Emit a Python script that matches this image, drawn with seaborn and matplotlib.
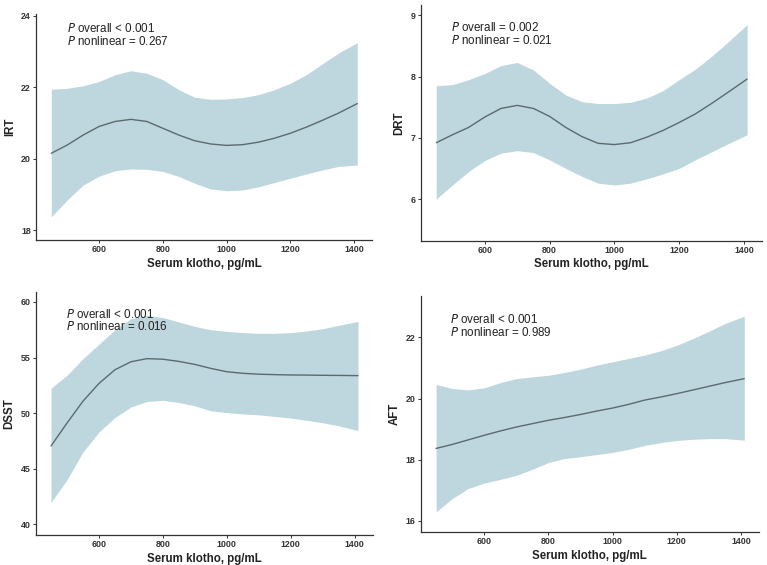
import numpy as np
import pandas as pd
import matplotlib
matplotlib.use("Agg")
import matplotlib.pyplot as plt
import seaborn as sb

# serum klotho values (pg/mL) where curves were read
klotho = [450, 500, 550, 600, 650, 700, 750, 800, 850, 900, 950,
          1000, 1050, 1100, 1150, 1200, 1250, 1300, 1350, 1410]

irt_est = [20.15, 20.38, 20.66, 20.90, 21.04, 21.10, 21.04, 20.85, 20.66, 20.50,
           20.41, 20.37, 20.39, 20.46, 20.57, 20.71, 20.88, 21.07, 21.27, 21.54]
irt_hi = [21.94, 21.97, 22.04, 22.16, 22.35, 22.46, 22.39, 22.21, 21.93, 21.72,
          21.66, 21.67, 21.71, 21.79, 21.93, 22.11, 22.35, 22.65, 22.95, 23.25]
irt_lo = [18.37, 18.84, 19.26, 19.51, 19.66, 19.71, 19.70, 19.64, 19.50, 19.31,
          19.15, 19.10, 19.12, 19.21, 19.33, 19.45, 19.57, 19.68, 19.78, 19.82]

drt_est = [6.92, 7.05, 7.17, 7.34, 7.48, 7.53, 7.48, 7.35, 7.17, 7.02,
           6.91, 6.89, 6.92, 7.01, 7.12, 7.25, 7.39, 7.56, 7.74, 7.96]
drt_hi = [7.85, 7.87, 7.95, 8.05, 8.18, 8.23, 8.11, 7.89, 7.70, 7.59,
          7.56, 7.56, 7.58, 7.65, 7.77, 7.95, 8.12, 8.33, 8.56, 8.85]
drt_lo = [6.00, 6.23, 6.45, 6.63, 6.75, 6.79, 6.76, 6.64, 6.50, 6.37,
          6.26, 6.23, 6.26, 6.33, 6.41, 6.50, 6.64, 6.77, 6.90, 7.05]

dsst_est = [47.04, 49.10, 51.07, 52.67, 53.90, 54.62, 54.90, 54.85, 54.65, 54.38,
            54.02, 53.72, 53.58, 53.50, 53.46, 53.43, 53.42, 53.40, 53.39, 53.37]
dsst_hi = [52.23, 53.40, 54.90, 56.20, 57.50, 58.50, 58.80, 58.60, 58.20, 57.80,
           57.50, 57.35, 57.25, 57.18, 57.18, 57.24, 57.39, 57.60, 57.90, 58.26]
dsst_lo = [41.95, 44.00, 46.50, 48.30, 49.60, 50.55, 51.05, 51.15, 50.95, 50.65,
           50.20, 50.04, 49.93, 49.84, 49.70, 49.55, 49.35, 49.13, 48.85, 48.42]

aft_est = [18.37, 18.50, 18.65, 18.80, 18.94, 19.07, 19.18, 19.29, 19.38, 19.48,
           19.59, 19.69, 19.81, 19.95, 20.05, 20.16, 20.28, 20.40, 20.52, 20.65]
aft_hi = [20.46, 20.33, 20.28, 20.35, 20.52, 20.65, 20.71, 20.76, 20.85, 20.96,
          21.09, 21.20, 21.31, 21.42, 21.56, 21.74, 21.96, 22.20, 22.45, 22.69]
aft_lo = [16.30, 16.73, 17.06, 17.24, 17.36, 17.49, 17.69, 17.91, 18.04, 18.10,
          18.17, 18.24, 18.34, 18.47, 18.56, 18.63, 18.67, 18.69, 18.69, 18.64]

outcomes = ["IRT", "DRT", "DSST", "AFT"]
p_overall = ["< 0.001", "= 0.002", "< 0.001", "< 0.001"]
p_nonlinear = ["= 0.267", "= 0.021", "= 0.016", "= 0.989"]
y_ticks = [[18, 20, 22, 24], [6, 7, 8, 9], [40, 45, 50, 55, 60], [16, 18, 20, 22]]
x_ticks = [600, 800, 1000, 1200, 1400]

curves = {
    "IRT": (irt_est, irt_lo, irt_hi),
    "DRT": (drt_est, drt_lo, drt_hi),
    "DSST": (dsst_est, dsst_lo, dsst_hi),
    "AFT": (aft_est, aft_lo, aft_hi),
}

sb.set_theme(style="ticks")
plt.rcParams['font.family'] = ['Liberation Sans', 'DejaVu Sans']

fig = plt.figure(figsize=(7.67, 5.65), dpi=100)
# panel boxes (left, bottom, width, height) in figure fractions
boxes = [
    [0.0469, 0.5752, 0.4380, 0.4000],
    [0.5485, 0.5740, 0.4450, 0.4172],
    [0.0465, 0.0526, 0.4394, 0.4306],
    [0.5485, 0.0584, 0.4411, 0.4177],
]
ylims = [(17.72, 24.05), (5.32, 9.17), (39.0, 60.9), (15.64, 23.35)]
text_pos = [(0.091, 0.934, 0.880), (0.088, 0.905, 0.848),
            (0.089, 0.908, 0.859), (0.086, 0.900, 0.847)]

band_col = "#bed6dd"
line_col = "#5a6b70"

for i, name in enumerate(outcomes):
    ax = fig.add_axes(boxes[i])
    est, lo, hi = curves[name]
    df = pd.DataFrame({"klotho": klotho, "est": est, "lo": lo, "hi": hi})
    ax.fill_between(df["klotho"], df["lo"], df["hi"], color=band_col, lw=0)
    sb.lineplot(data=df, x="klotho", y="est", color=line_col, lw=1.0, ax=ax)
    ax.set_xlim(402, 1456)
    ax.set_ylim(*ylims[i])
    ax.set_xticks(x_ticks)
    ax.set_yticks(y_ticks[i])
    ax.set_xlabel("Serum klotho, pg/mL", fontsize=8.3, fontweight="bold",
                  color="#222222", labelpad=2.5)
    ax.set_ylabel(name, fontsize=8.3, fontweight="bold", color="#222222", labelpad=3.5)
    ax.tick_params(labelsize=6.4, length=2.2, width=0.7, pad=1.5,
                   colors="#333333", labelcolor="#333333")
    for lab in ax.get_xticklabels() + ax.get_yticklabels():
        lab.set_fontweight("bold")
    sb.despine(ax=ax)
    for sp in ["left", "bottom"]:
        ax.spines[sp].set_color("#333333")
        ax.spines[sp].set_linewidth(0.9)
    tx, ty1, ty2 = text_pos[i]
    ax.text(tx, ty1, r"$\it{P}$ overall " + p_overall[i], transform=ax.transAxes,
            fontsize=8.4, va="center", ha="left", color="#222222")
    ax.text(tx, ty2, r"$\it{P}$ nonlinear " + p_nonlinear[i], transform=ax.transAxes,
            fontsize=8.4, va="center", ha="left", color="#222222")

fig.savefig("out.png", dpi=100)
